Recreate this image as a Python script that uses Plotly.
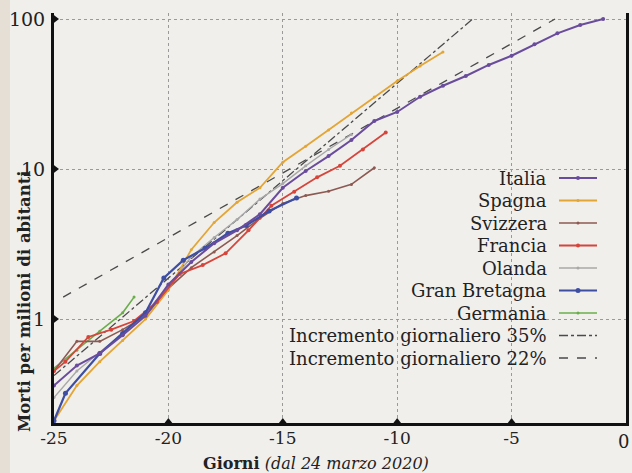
import plotly.graph_objects as go

# ---------------- data ----------------
italia_x = [-25, -24, -23, -22, -21, -20, -19, -18, -17, -16, -15, -14, -13, -12, -11, -10, -9, -8, -7, -6, -5, -4, -3, -2, -1]
italia_y = [0.36, 0.49, 0.59, 0.78, 1.05, 1.7, 2.4, 3.2, 3.9, 5.0, 7.5, 9.7, 12.2, 15.6, 20.9, 24.0, 30.3, 35.9, 41.7, 49.4, 56.9, 67.8, 80.3, 91.2, 100]

spagna_x = [-25, -24, -23, -22, -21, -20, -19, -18, -17, -16, -15, -14, -13, -12, -11, -10, -9, -8]
spagna_y = [0.21, 0.36, 0.52, 0.72, 1.0, 1.56, 2.9, 4.4, 6.0, 7.5, 11.1, 14.2, 18.2, 23.6, 30.2, 38.6, 48.6, 60.3]

svizzera_x = [-25, -24, -23, -22, -21, -20, -19, -18, -17, -16, -15, -14, -13, -12, -11]
svizzera_y = [0.45, 0.71, 0.71, 0.85, 1.05, 1.6, 2.2, 2.8, 3.6, 4.7, 5.9, 6.65, 7.1, 7.9, 10.2]

francia_x = [-25, -24.5, -23.5, -22.5, -21.5, -20.5, -19.5, -18.5, -17.5, -16.5, -15.5, -14.5, -13.5, -12.5, -11.5, -10.5]
francia_y = [0.45, 0.52, 0.76, 0.85, 0.97, 1.3, 2.0, 2.29, 2.74, 3.9, 5.7, 7.06, 8.8, 10.5, 13.5, 17.5]

olanda_x = [-25, -24, -23, -22, -21, -20, -19, -18, -17, -16, -15, -14, -13, -12]
olanda_y = [0.3, 0.45, 0.6, 0.8, 1.1, 1.65, 2.6, 3.5, 4.6, 6.3, 8.0, 10.5, 13.5, 17.0]

gb_x = [-25, -24.5, -23, -22, -21, -20.2, -19.35, -18.4, -17.4, -16.6, -15.6, -14.4]
gb_y = [0.21, 0.32, 0.59, 0.8, 1.1, 1.88, 2.47, 2.96, 3.73, 4.2, 5.25, 6.4]

germania_x = [-25, -24, -23, -22, -21.5]
germania_y = [0.47, 0.62, 0.83, 1.1, 1.4]

inc35_x = [-25, -6.7]
inc35_y = [0.42, 100]
inc22_x = [-24.6, -3.1]
inc22_y = [1.4, 100]

x_ticks = [-25, -20, -15, -10, -5, 0]
y_ticks = [1, 10, 100]
y_ticktext = ["1", "10", "100"]

names = ["Italia", "Spagna", "Svizzera", "Francia", "Olanda", "Gran Bretagna", "Germania",
         "Incremento giornaliero 35%", "Incremento giornaliero 22%"]
xs = [italia_x, spagna_x, svizzera_x, francia_x, olanda_x, gb_x, germania_x, inc35_x, inc22_x]
ys = [italia_y, spagna_y, svizzera_y, francia_y, olanda_y, gb_y, germania_y, inc35_y, inc22_y]

# ---------------- styles ----------------
colors = ["#6a4c9c", "#e3a534", "#8c5a52", "#d6453b", "#a8a8a8", "#3d4ea3", "#6aae4c", "#4a4a4a", "#4a4a4a"]
widths = [2.0, 1.8, 1.6, 1.8, 1.4, 2.2, 1.6, 1.3, 1.3]
dashes = ["solid"] * 7 + ["dashdot", "dash"]
msizes = [4, 3, 3, 4, 3, 5, 3, 0, 0]

FONT = "DejaVu Serif"
W, H = 632, 473
L, R, T, B = 54, 6, 13, 50
PW, PH = W - L - R, H - T - B
Y_RANGE = [-0.693, 2.04]
BG = "#f1efec"


def px(x):
    return (x - L) / PW


def py(y):
    return (H - B - y) / PH


fig = go.Figure()

# reference lines behind, then countries so that Italia ends on top
order = [8, 7, 4, 6, 2, 1, 3, 5, 0]
for i in order:
    mode = "lines" if msizes[i] == 0 else "lines+markers"
    fig.add_trace(go.Scatter(
        x=xs[i], y=ys[i], mode=mode, name=names[i], showlegend=False,
        line=dict(color=colors[i], width=widths[i], dash=dashes[i]),
        marker=dict(size=msizes[i], color=colors[i]),
    ))

# triangle tick markers on axes
fig.add_trace(go.Scatter(
    x=[x_ticks[0]] * len(y_ticks), y=y_ticks, mode="markers", showlegend=False,
    marker=dict(symbol="triangle-right", size=10, color="#111"), cliponaxis=False, hoverinfo="skip"))
fig.add_trace(go.Scatter(
    x=x_ticks[1:-1], y=[10 ** Y_RANGE[0]] * (len(x_ticks) - 2), mode="markers", showlegend=False,
    marker=dict(symbol="triangle-up", size=10, color="#111"), cliponaxis=False, hoverinfo="skip"))

shapes = []
annotations = []

# beige strip at left edge
shapes.append(dict(type="rect", xref="paper", yref="paper", x0=px(0), x1=px(10), y0=py(H), y1=py(0),
                   fillcolor="#e6dfd6", line=dict(width=0), layer="below"))

# custom legend: text right-aligned, sample line on the right
row0, step = 178, 22.5
for k, name in enumerate(names):
    yy = row0 + k * step
    annotations.append(dict(text=name, xref="paper", yref="paper", x=px(549), y=py(yy),
                            xanchor="right", yanchor="middle", showarrow=False,
                            font=dict(family=FONT, size=18, color="#222")))
    shapes.append(dict(type="line", xref="paper", yref="paper", x0=px(559), x1=px(597),
                       y0=py(yy), y1=py(yy),
                       line=dict(color=colors[k], width=min(widths[k], 1.8), dash=dashes[k])))
    if msizes[k] > 0:
        r = msizes[k] / 2
        shapes.append(dict(type="circle", xref="paper", yref="paper",
                           x0=px(578 - r), x1=px(578 + r), y0=py(yy - r), y1=py(yy + r),
                           fillcolor=colors[k], line=dict(width=0)))

# last x tick label ("0") kept inside the page edge
annotations.append(dict(text=str(x_ticks[-1]), xref="paper", yref="paper", x=px(631), y=py(441),
                        xanchor="right", yanchor="middle", showarrow=False,
                        font=dict(family=FONT, size=18, color="#222")))

# axis titles
annotations.append(dict(text="<b>Morti per milioni di abitanti</b>", textangle=-90,
                        xref="paper", yref="paper", x=px(24), y=py(301),
                        xanchor="center", yanchor="middle", showarrow=False,
                        font=dict(family=FONT, size=16.5, color="#222")))
annotations.append(dict(text="<b>Giorni</b> <i>(dal 24 marzo 2020)</i>",
                        xref="paper", yref="paper", x=px(316), y=py(463),
                        xanchor="center", yanchor="middle", showarrow=False,
                        font=dict(family=FONT, size=16, color="#222")))

fig.update_layout(
    width=W, height=H,
    margin=dict(l=L, r=R, t=T, b=B, pad=0, autoexpand=False),
    paper_bgcolor=BG, plot_bgcolor=BG,
    showlegend=False,
    shapes=shapes, annotations=annotations,
    xaxis=dict(range=[-25, 0], tickvals=x_ticks[:-1], ticktext=[str(v) for v in x_ticks[:-1]],
               showgrid=True, gridcolor="#9a9a9a", griddash="dot", gridwidth=1,
               showline=True, linecolor="#111", linewidth=2.5, zeroline=False,
               ticks="", ticklabelstandoff=-2, automargin=False,
               tickfont=dict(family=FONT, size=17, color="#222")),
    yaxis=dict(type="log", range=Y_RANGE, tickvals=y_ticks, ticktext=y_ticktext,
               showgrid=True, gridcolor="#9a9a9a", griddash="dot", gridwidth=1,
               showline=True, linecolor="#111", linewidth=3, mirror=True, zeroline=False,
               ticks="", ticklabelstandoff=2, automargin=False,
               tickfont=dict(family=FONT, size=19, color="#222")),
)

fig.write_html("out.html", config={"displayModeBar": False},
               post_script="document.body.style.margin='0';document.body.style.overflow='hidden';")
